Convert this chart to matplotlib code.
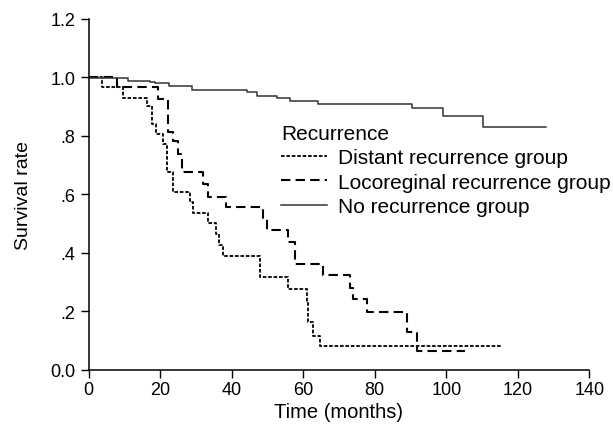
import matplotlib.pyplot as plt

plt.rcParams['font.family'] = ['Liberation Sans', 'DejaVu Sans']

# Kaplan-Meier step data (months, survival)
t_distant = [0, 3.7, 9.7, 16.3, 17.7, 18.9, 20.9, 21.9, 23.7, 28.4, 29.3, 33.5, 35.6, 36.6, 37.5,
             47.9, 55.8, 61.0, 61.4, 62.8, 64.7, 115.3]
s_distant = [1.0, 0.969, 0.929, 0.904, 0.841, 0.807, 0.773, 0.676, 0.608, 0.573, 0.536, 0.503, 0.465,
             0.427, 0.391, 0.319, 0.277, 0.237, 0.163, 0.117, 0.083, 0.083]

t_loco = [0, 7.9, 19.5, 22.3, 23.7, 25.1, 26.0, 32.1, 33.5, 38.4, 48.8, 49.8, 55.8, 57.7, 65.6,
          73.1, 74.0, 77.9, 88.9, 91.9, 105.2]
s_loco = [1.0, 0.969, 0.926, 0.813, 0.784, 0.738, 0.676, 0.636, 0.590, 0.558, 0.516, 0.480, 0.439,
          0.362, 0.325, 0.279, 0.243, 0.197, 0.129, 0.066, 0.066]

t_none = [0, 11.1, 17.2, 18.6, 22.6, 28.8, 44.2, 47.0, 52.6, 56.3, 64.2, 90.3, 99.2, 110.2, 128]
s_none = [0.997, 0.989, 0.986, 0.980, 0.972, 0.957, 0.949, 0.938, 0.929, 0.921, 0.909, 0.895,
          0.867, 0.830, 0.830]

labels = ['Distant recurrence group', 'Locoreginal recurrence group', 'No recurrence group']

fig = plt.figure(figsize=(6.13, 4.39), dpi=100)
ax = fig.add_axes([0.1444, 0.155, 0.8171, 0.7995])

ax.step(t_distant, s_distant, where='post', color='black', lw=1.3, linestyle=(0, (2, 1)),
        label=labels[0])
ax.step(t_loco, s_loco, where='post', color='black', lw=1.5, linestyle=(0, (4.5, 2.5)),
        label=labels[1])
ax.step(t_none, s_none, where='post', color='#333333', lw=1.1, label=labels[2])

ax.set_xlim(0, 140)
ax.set_ylim(0, 1.2)
ax.set_xticks(range(0, 141, 20))
ax.set_yticks([0, 0.2, 0.4, 0.6, 0.8, 1.0, 1.2])
ax.set_yticklabels(['0.0', '.2', '.4', '.6', '.8', '1.0', '1.2'])
ax.tick_params(direction='out', length=6, width=1, labelsize=13, colors='black')
ax.tick_params(axis='x', pad=2)
ax.spines['top'].set_visible(False)
ax.spines['right'].set_visible(False)
ax.spines['left'].set_linewidth(1.1)
ax.spines['bottom'].set_linewidth(1.1)
ax.set_xlabel('Time (months)', fontsize=14.5, labelpad=3)
ax.set_ylabel('Survival rate', fontsize=14, labelpad=13)

leg = ax.legend(title='Recurrence', loc='upper left', bbox_to_anchor=(0.385, 0.70),
                frameon=False, fontsize=15, title_fontsize=15, handlelength=2.2,
                handletextpad=0.5, labelspacing=0.25, borderpad=0, borderaxespad=0,
                alignment='left')

fig.savefig('out.png', dpi=100)
